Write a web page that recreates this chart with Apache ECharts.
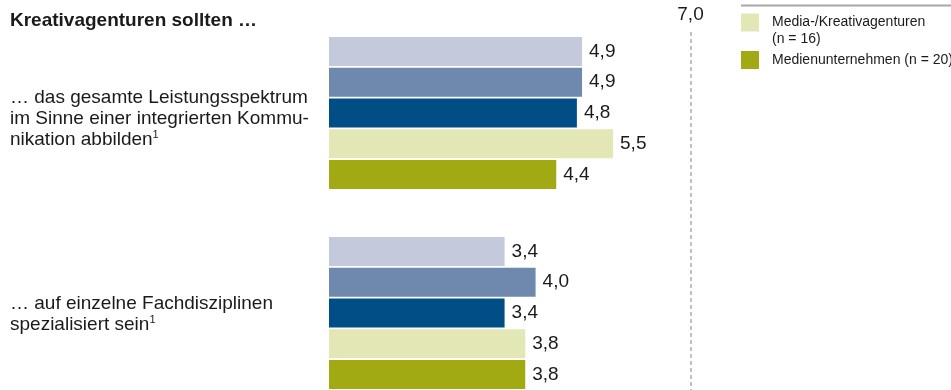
<!DOCTYPE html>
<html>
<head>
<meta charset="utf-8">
<script src="https://cdn.jsdelivr.net/npm/echarts@6/dist/echarts.min.js"></script>
<style>
  html, body { margin: 0; padding: 0; background: #fff; }
  #chart { width: 951px; height: 390px; }
</style>
</head>
<body>
<div id="chart"></div>
<script>
// Statements rated on a scale up to 7
const categories = [
  '… das gesamte Leistungsspektrum\nim Sinne einer integrierten Kommu-\nnikation abbilden{sup|1}',
  '… auf einzelne Fachdisziplinen\nspezialisiert sein{sup|1}'
];
const seriesNames = [
  'Gruppe 1',
  'Gruppe 2',
  'Gruppe 3',
  'Media-/Kreativagenturen\n(n = 16)',
  'Medienunternehmen (n = 20)'
];
const seriesValues = [
  [4.9, 3.4],
  [4.9, 4.0],
  [4.8, 3.4],
  [5.5, 3.8],
  [4.4, 3.8]
];
const seriesColors = ['#c4c9dc', '#6e88ae', '#004e85', '#e3e7b5', '#a2aa13'];
const scaleMax = 7;
const scaleMaxLabel = '7,0';
const title = 'Kreativagenturen sollten …';

const FONT = '"Liberation Sans", Arial, Helvetica, sans-serif';
const fmt = v => v.toFixed(1).replace('.', ',');

const series = seriesNames.map((name, i) => {
  const s = {
    name: name,
    type: 'bar',
    data: seriesValues[i],
    barWidth: 29,
    barGap: '6%',
    itemStyle: { color: seriesColors[i] },
    label: {
      show: true,
      position: 'right',
      distance: 7,
      fontFamily: FONT,
      fontSize: 19,
      color: '#1a1a1a',
      formatter: p => fmt(p.value)
    },
    emphasis: { disabled: true },
    silent: true
  };
  if (i === 0) {
    // dashed reference line at the top of the scale
    s.markLine = {
      silent: true,
      symbol: 'none',
      lineStyle: { type: [4, 3], color: '#adadad', width: 1.5 },
      label: {
        show: true,
        position: 'start',
        distance: 8,
        formatter: scaleMaxLabel,
        fontFamily: FONT,
        fontSize: 19,
        color: '#1a1a1a'
      },
      data: [[
        { coord: [scaleMax, 0], y: 32 },
        { coord: [scaleMax, 1], y: 390 }
      ]]
    };
  }
  return s;
});

const labelStyle = {
  align: 'left',
  fontFamily: FONT,
  fontSize: 19,
  lineHeight: 21,
  color: '#1a1a1a'
};

const chart = echarts.init(document.getElementById('chart'), null, { renderer: 'canvas' });
chart.setOption({
  animation: false,
  backgroundColor: '#ffffff',
  textStyle: { fontFamily: FONT },
  title: {
    text: title,
    left: 10,
    top: 11,
    padding: 0,
    textStyle: { fontFamily: FONT, fontSize: 19, fontWeight: 'bold', color: '#1a1a1a' }
  },
  legend: {
    data: [seriesNames[3], seriesNames[4]],
    orient: 'vertical',
    left: 741,
    top: -3,
    padding: 0,
    itemGap: 3,
    itemWidth: 18,
    itemHeight: 18,
    icon: 'rect',
    selectedMode: false,
    formatter: name => (name.indexOf('\n') >= 0 ? '{p| }\n' + name : name),
    textStyle: {
      fontFamily: FONT,
      fontSize: 14,
      lineHeight: 17,
      color: '#1a1a1a',
      padding: [0, 0, 0, 8],
      rich: { p: { fontSize: 14, lineHeight: 17 } }
    }
  },
  graphic: [{
    type: 'line',
    shape: { x1: 741, y1: 5.5, x2: 951, y2: 5.5 },
    style: { stroke: '#a8a8a8', lineWidth: 2 },
    silent: true
  }],
  grid: {
    left: 329, top: 13, width: 361.5, height: 400,
    containLabel: false,
    outerBoundsMode: 'none'
  },
  xAxis: {
    type: 'value',
    min: 0,
    max: scaleMax,
    show: false
  },
  yAxis: {
    type: 'category',
    inverse: true,
    data: [
      { value: categories[0], textStyle: Object.assign({}, labelStyle, { padding: [11, 0, 0, 0] }) },
      { value: categories[1], textStyle: Object.assign({}, labelStyle, { padding: [2, 0, 0, 0] }) }
    ],
    axisLine: { show: false },
    axisTick: { show: false },
    axisLabel: Object.assign({}, labelStyle, {
      margin: 319,
      rich: {
        sup: { fontSize: 11, verticalAlign: 'top', lineHeight: 21, fontFamily: FONT, color: '#1a1a1a' }
      }
    })
  },
  series: series
});
</script>
</body>
</html>
